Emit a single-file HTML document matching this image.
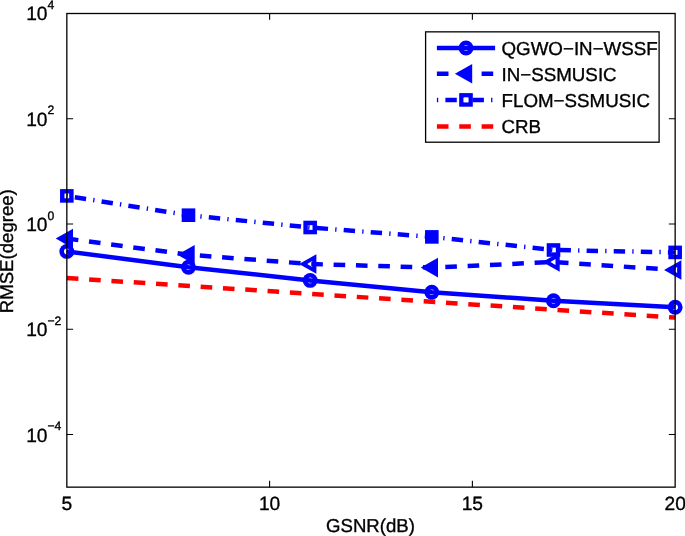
<!DOCTYPE html>
<html lang="en"><head><meta charset="utf-8"><title>RMSE versus GSNR</title><style>
html,body{margin:0;padding:0;background:#fff;}
body{width:685px;height:536px;overflow:hidden;}
svg{display:block;will-change:transform;}
text{font-family:"Liberation Sans",sans-serif;fill:#000;stroke:#000;stroke-width:0.35px;text-rendering:geometricPrecision;}
</style></head><body>
<svg width="685" height="536" viewBox="0 0 685 536">
<rect width="685" height="536" fill="#fff"/>
<g id="data">
<rect x="60.03" y="189.10" width="13.6" height="13.6" fill="#0000ff"/><rect x="64.48" y="193.55" width="4.7" height="4.7" fill="#fff"/>
<rect x="181.69" y="208.40" width="13.6" height="13.6" fill="#0000ff"/>
<rect x="303.36" y="220.70" width="13.6" height="13.6" fill="#0000ff"/><rect x="307.81" y="225.15" width="4.7" height="4.7" fill="#fff"/>
<rect x="425.02" y="230.10" width="13.6" height="13.6" fill="#0000ff"/>
<rect x="546.69" y="243.20" width="13.6" height="13.6" fill="#0000ff"/><rect x="551.14" y="247.65" width="4.7" height="4.7" fill="#fff"/>
<rect x="668.35" y="245.60" width="13.6" height="13.6" fill="#0000ff"/><rect x="672.80" y="250.05" width="4.7" height="4.7" fill="#fff"/>
<path d="M55.73 238.60L73.03 228.80V248.40Z" fill="#0000ff"/>
<path d="M177.39 254.70L194.69 244.90V264.50Z" fill="#0000ff"/>
<path d="M299.06 264.00L316.36 254.20V273.80Z" fill="#0000ff"/><path d="M307.16 264.00L312.16 261.00V267.00Z" fill="#fff"/>
<path d="M420.72 267.60L438.02 257.80V277.40Z" fill="#0000ff"/>
<path d="M542.39 262.00L559.69 252.20V271.80Z" fill="#0000ff"/><path d="M550.49 262.00L555.49 259.00V265.00Z" fill="#fff"/>
<path d="M664.05 270.00L681.35 260.20V279.80Z" fill="#0000ff"/><path d="M672.15 270.00L677.15 267.00V273.00Z" fill="#fff"/>
<path d="M66.83 278.0L675.15 317.6" stroke="#ff0000" stroke-width="4.5" stroke-dasharray="11.6 10.75" fill="none"/>
<polyline points="66.83,195.90 188.49,215.20 310.16,227.50 431.82,236.90 553.49,250.00 675.15,252.40" stroke="#0000ff" stroke-width="4.5" stroke-dasharray="1.3 7.2 11.4 7.2" stroke-dashoffset="0.4" fill="none"/>
<polyline points="66.83,238.60 188.49,254.70 310.16,264.00 431.82,267.60 553.49,262.00 675.15,270.00" stroke="#0000ff" stroke-width="4.5" stroke-dasharray="11.6 10.75" fill="none"/>
<circle cx="66.83" cy="251.40" r="7.45" fill="#0000ff"/><circle cx="66.83" cy="251.40" r="2.8" fill="#fff"/>
<circle cx="188.49" cy="267.30" r="7.45" fill="#0000ff"/><circle cx="188.49" cy="267.30" r="2.8" fill="#fff"/>
<circle cx="310.16" cy="280.40" r="7.45" fill="#0000ff"/><circle cx="310.16" cy="280.40" r="2.8" fill="#fff"/>
<circle cx="431.82" cy="292.20" r="7.45" fill="#0000ff"/><circle cx="431.82" cy="292.20" r="2.8" fill="#fff"/>
<circle cx="553.49" cy="300.80" r="7.45" fill="#0000ff"/><circle cx="553.49" cy="300.80" r="2.8" fill="#fff"/>
<circle cx="675.15" cy="307.20" r="7.45" fill="#0000ff"/><circle cx="675.15" cy="307.20" r="2.8" fill="#fff"/>
<polyline points="66.83,251.40 188.49,267.30 310.16,280.40 431.82,292.20 553.49,300.80 675.15,307.20" stroke="#0000ff" stroke-width="4.5" fill="none"/>
</g>
<rect x="66.83" y="13.5" width="608.32" height="473.65" fill="none" stroke="#000" stroke-width="1.3"/>
<path d="M269.60 487.15v-6.3M269.60 13.5v6.3" stroke="#000" stroke-width="1.1" fill="none"/>
<path d="M472.38 487.15v-6.3M472.38 13.5v6.3" stroke="#000" stroke-width="1.1" fill="none"/>
<path d="M66.83 118.76h6.3M675.15 118.76h-6.3" stroke="#000" stroke-width="1.1" fill="none"/>
<path d="M66.83 224.01h6.3M675.15 224.01h-6.3" stroke="#000" stroke-width="1.1" fill="none"/>
<path d="M66.83 329.27h6.3M675.15 329.27h-6.3" stroke="#000" stroke-width="1.1" fill="none"/>
<path d="M66.83 434.52h6.3M675.15 434.52h-6.3" stroke="#000" stroke-width="1.1" fill="none"/>
<text x="26.2" y="20.0" font-size="19.2">10</text>
<text x="47.4" y="9.0" font-size="12.2">4</text>
<text x="26.2" y="126.0" font-size="19.2">10</text>
<text x="47.4" y="114.0" font-size="12.2">2</text>
<text x="26.2" y="231.0" font-size="19.2">10</text>
<text x="47.4" y="219.6" font-size="12.2">0</text>
<text x="26.2" y="336.0" font-size="19.2">10</text>
<text x="47.4" y="325.0" font-size="12.2">−2</text>
<text x="26.2" y="442.0" font-size="19.2">10</text>
<text x="47.4" y="430.0" font-size="12.2">−4</text>
<text x="66.83" y="510" font-size="19.2" text-anchor="middle">5</text>
<text x="269.60" y="510" font-size="19.2" text-anchor="middle">10</text>
<text x="472.38" y="510" font-size="19.2" text-anchor="middle">15</text>
<text x="675.15" y="510" font-size="19.2" text-anchor="middle">20</text>
<text x="370.5" y="531.7" font-size="18.6" text-anchor="middle">GSNR(dB)</text>
<text transform="translate(13.4,251.2) rotate(-90)" font-size="18.6" text-anchor="middle">RMSE(degree)</text>
<rect x="425.6" y="31.85" width="233.50" height="110.35" fill="#fff" stroke="#000" stroke-width="1.3"/>
<rect x="459.20" y="93.10" width="13.6" height="13.6" fill="#0000ff"/><rect x="463.65" y="97.55" width="4.7" height="4.7" fill="#fff"/>
<path d="M454.90 73.70L472.20 63.90V83.50Z" fill="#0000ff"/>
<circle cx="466.00" cy="48.00" r="7.45" fill="#0000ff"/><circle cx="466.00" cy="48.00" r="2.8" fill="#fff"/>
<path d="M436.9 48.0H495.1" stroke="#0000ff" stroke-width="4.5"/>
<path d="M436.9 73.7H495.1" stroke="#0000ff" stroke-width="4.5" stroke-dasharray="11.6 10.75"/>
<path d="M436.9 99.9H495.1" stroke="#0000ff" stroke-width="4.5" stroke-dasharray="1.3 7.2 11.4 7.2"/>
<path d="M436.9 126.4H495.1" stroke="#ff0000" stroke-width="4.5" stroke-dasharray="11.6 10.75"/>
<rect x="463.65" y="97.55" width="4.7" height="4.7" fill="#fff"/>
<text x="501.5" y="54.90" font-size="18.75">QGWO−IN−WSSF</text>
<text x="501.5" y="80.80" font-size="18.75">IN−SSMUSIC</text>
<text x="501.5" y="107.00" font-size="18.75">FLOM−SSMUSIC</text>
<text x="501.5" y="133.40" font-size="18.75">CRB</text>
</svg></body></html>
